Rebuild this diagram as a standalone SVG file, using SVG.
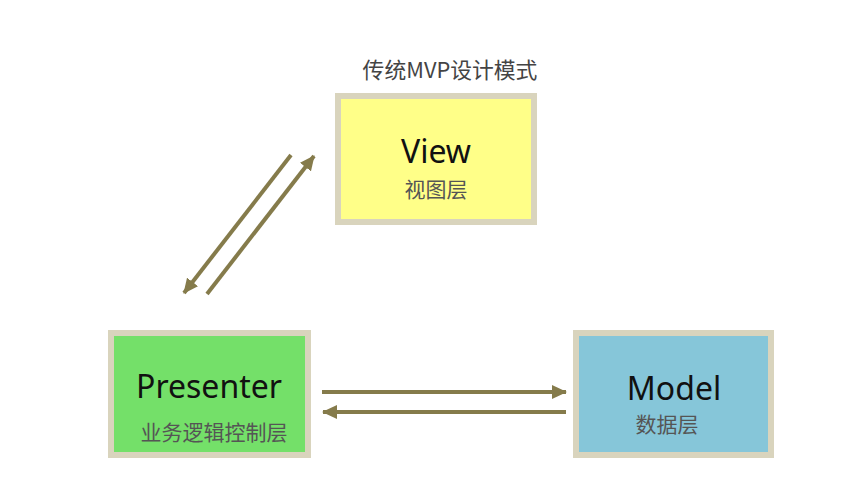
<svg xmlns="http://www.w3.org/2000/svg" width="842" height="504" viewBox="0 0 842 504">
<style>
.box{stroke:#d9d4bd;stroke-width:6}
.en{font-family:"Noto Sans","DejaVu Sans",sans-serif;font-size:32px;fill:#111;text-anchor:middle}
.cn{font-family:"Noto Sans CJK SC",sans-serif;font-size:21px;fill:#555;text-anchor:middle}
.arr{stroke:#857b4b;stroke-width:4;fill:none;marker-end:url(#ah)}
</style>
<defs>
<marker id="ah" markerUnits="userSpaceOnUse" markerWidth="16" markerHeight="14" refX="14" refY="7" orient="auto">
<path d="M0,0 L15,7 L0,14 Z" fill="#857b4b"/>
</marker>
</defs>
<rect width="842" height="504" fill="#ffffff"/>
<text x="450" y="78" font-family="Noto Sans CJK SC,sans-serif" font-size="21.8" fill="#444" text-anchor="middle">传统MVP设计模式</text>
<g id="view">
<rect class="box" x="338" y="96" width="196" height="126" fill="#ffff88"/>
<text class="en" x="436" y="163">View</text>
<text class="cn" x="436" y="197">视图层</text>
</g>
<g id="presenter">
<rect class="box" x="111" y="333" width="197" height="122" fill="#74e069"/>
<text class="en" x="209" y="398">Presenter</text>
<text class="cn" x="214" y="440">业务逻辑控制层</text>
</g>
<g id="model">
<rect class="box" x="576" y="333" width="195" height="122" fill="#86c6d9"/>
<text class="en" x="674" y="400">Model</text>
<text class="cn" x="667" y="432">数据层</text>
</g>
<g id="connectors">
<line class="arr" x1="291" y1="155" x2="184" y2="293"/>
<line class="arr" x1="207" y1="294" x2="314" y2="156"/>
<line class="arr" x1="322" y1="392" x2="566" y2="392"/>
<line class="arr" x1="566" y1="412" x2="323" y2="412"/>
</g>
</svg>
